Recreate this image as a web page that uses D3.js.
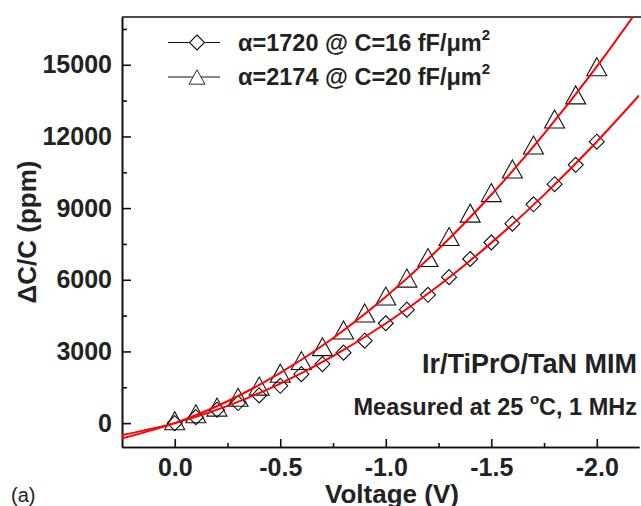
<!DOCTYPE html>
<html>
<head>
<meta charset="utf-8">
<script src="https://cdn.jsdelivr.net/npm/d3@7"></script>
<style>
    body { margin: 0; background: #fff; }
    svg text { font-family: "Liberation Sans", Arial, sans-serif; fill: #222; }
    .axis path, .axis line { stroke: #111; stroke-width: 1.6; }
    .axis text { font-size: 25px; font-weight: bold; }
</style>
</head>
<body>
<div id="chart"></div>
<script>
// measured points (bias voltage in V, dC/C in ppm)
const voltage = [0, -0.1, -0.2, -0.3, -0.4, -0.5, -0.6, -0.7, -0.8, -0.9, -1.0,
    -1.1, -1.2, -1.3, -1.4, -1.5, -1.6, -1.7, -1.8, -1.9, -2.0];
const dcDiamond = [0, 250, 560, 840, 1160, 1560, 2050, 2470, 2950, 3450, 4180,
    4750, 5370, 6110, 6870, 7560, 8350, 9160, 10000, 10810, 11780];
const dcTriangle = [100, 390, 670, 1080, 1550, 2090, 2620, 3200, 3900, 4610, 5320,
    6070, 6930, 7810, 8790, 9650, 10640, 11640, 12730, 13740, 14920];

// red fit curves
const fitVoltage = [0.25, 0, -0.25, -0.5, -0.75, -1.0, -1.25, -1.5, -1.75, -2.0, -2.2];
const fitDiamond = [-500, 0, 720, 1655, 2805, 4170, 5750, 7545, 9555, 11780, 13715];
const fitTriangle = [-640, 0, 915, 2100, 3555, 5285, 7285, 9560, 12105, 14920, 17370];

// axis ticks
const xMajor = [0, -0.5, -1.0, -1.5, -2.0];
const xMinor = [-0.25, -0.75, -1.25, -1.75];
const yMajor = [0, 3000, 6000, 9000, 12000, 15000];
const yMinor = [1500, 4500, 7500, 10500, 13500, 16500];

const legendLabels = ["\u03b1=1720 @ C=16 fF/\u03bcm", "\u03b1=2174 @ C=20 fF/\u03bcm"];
const legendShapes = ["diamond", "triangle"];

let margin = { top: 17, right: 2, bottom: 59, left: 122 };
let width = 641 - margin.left - margin.right,
    height = 506 - margin.top - margin.bottom;

let svg = d3.select("#chart").append("svg")
    .attr("width", 641)
    .attr("height", 506);

let g = svg.append("g")
    .attr("transform", "translate(" + margin.left + "," + margin.top + ")");

let x = d3.scaleLinear().domain([0.25, -2.2]).range([0, width]);
let y = d3.scaleLinear().domain([-1000, 17000]).range([height, 0]);

// marker shapes, centred on the point
function markerPath(shape) {
    if (shape === "diamond") {
        return "M0,-7.5L7.5,0L0,7.5L-7.5,0Z";
    }
    return "M0,-9L10,9L-10,9Z";
}

g.append("clipPath").attr("id", "clip")
    .append("rect").attr("width", width).attr("height", height);

// axes
g.append("g")
    .attr("class", "axis")
    .attr("transform", "translate(0," + height + ")")
    .call(d3.axisBottom(x).tickValues(xMajor).tickSize(-8).tickPadding(11)
        .tickFormat(d => d.toFixed(1)).tickSizeOuter(0));
g.append("g")
    .attr("class", "axis")
    .attr("transform", "translate(0," + height + ")")
    .call(d3.axisBottom(x).tickValues(xMinor).tickSize(-4).tickFormat("").tickSizeOuter(0));

g.append("g")
    .attr("class", "axis")
    .call(d3.axisLeft(y).tickValues(yMajor).tickSize(-9).tickPadding(10)
        .tickFormat(d3.format("d")).tickSizeOuter(0));
g.append("g")
    .attr("class", "axis")
    .call(d3.axisLeft(y).tickValues(yMinor).tickSize(-5).tickFormat("").tickSizeOuter(0));

// top frame line
g.append("line")
    .attr("x1", 0).attr("x2", width + margin.right)
    .attr("y1", 0).attr("y2", 0)
    .attr("stroke", "#111").attr("stroke-width", 1.6);

// hollow markers
let series = [
    { shape: "diamond", values: dcDiamond },
    { shape: "triangle", values: dcTriangle }
];
series.forEach(s => {
    g.selectAll(".m-" + s.shape)
        .data(voltage.map((v, i) => [v, s.values[i]]))
        .enter().append("path")
        .attr("class", "m-" + s.shape)
        .attr("d", markerPath(s.shape))
        .attr("transform", d => "translate(" + x(d[0]) + "," + y(d[1]) + ")")
        .attr("fill", "none")
        .attr("stroke", "#111")
        .attr("stroke-width", 1.1);
});

// fit lines on top
let line = d3.line()
    .x(d => x(d[0]))
    .y(d => y(d[1]))
    .curve(d3.curveNatural);

[fitDiamond, fitTriangle].forEach(f => {
    g.append("path")
        .datum(fitVoltage.map((v, i) => [v, f[i]]))
        .attr("clip-path", "url(#clip)")
        .attr("d", line)
        .attr("fill", "none")
        .attr("stroke", "#ff0000")
        .attr("stroke-width", 2);
});

// legend
legendLabels.forEach((label, i) => {
    let ly = 25.5 + i * 34.5;
    let lg = g.append("g").attr("transform", "translate(0," + ly + ")");
    lg.append("line")
        .attr("x1", 46).attr("x2", 98)
        .attr("stroke", "#111").attr("stroke-width", 1);
    lg.append("path")
        .attr("d", markerPath(legendShapes[i]))
        .attr("transform", "translate(75,0)" + (legendShapes[i] === "triangle" ? " scale(0.8)" : ""))
        .attr("fill", "#fff")
        .attr("stroke", "#111")
        .attr("stroke-width", 1.1);
    let t = lg.append("text")
        .attr("x", 116)
        .attr("y", 8)
        .attr("font-size", "23.5px")
        .attr("font-weight", "bold")
        .text(label);
    t.append("tspan")
        .attr("font-size", "15px")
        .attr("dy", -11)
        .text("2");
});

// annotations
g.append("text")
    .attr("x", width - 2)
    .attr("y", 356)
    .attr("text-anchor", "end")
    .attr("font-size", "27px")
    .attr("font-weight", "bold")
    .text("Ir/TiPrO/TaN MIM");

let meas = g.append("text")
    .attr("x", width - 2)
    .attr("y", 398)
    .attr("text-anchor", "end")
    .attr("font-size", "23.5px")
    .attr("font-weight", "bold");
meas.append("tspan").text("Measured at 25 ");
meas.append("tspan").attr("font-size", "15px").attr("dy", -11).text("o");
meas.append("tspan").attr("dy", 11).text("C, 1 MHz");

// axis titles
svg.append("text")
    .attr("x", 392)
    .attr("y", 503)
    .attr("text-anchor", "middle")
    .attr("font-size", "26px")
    .attr("font-weight", "bold")
    .text("Voltage (V)");

svg.append("text")
    .attr("transform", "translate(36," + (margin.top + height / 2) + ") rotate(-90)")
    .attr("text-anchor", "middle")
    .attr("font-size", "26px")
    .attr("font-weight", "bold")
    .text("\u0394C/C (ppm)");

svg.append("text")
    .attr("x", 11)
    .attr("y", 502)
    .attr("font-size", "20px")
    .text("(a)");
</script>
</body>
</html>
